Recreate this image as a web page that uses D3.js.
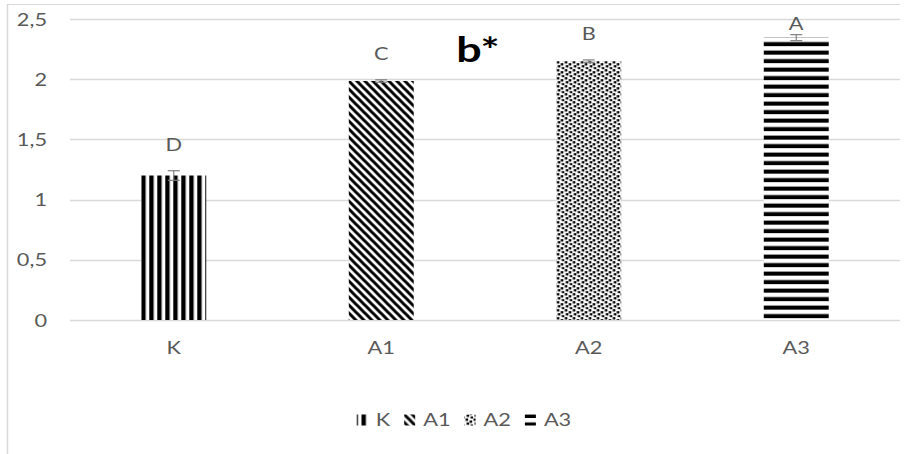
<!DOCTYPE html>
<html>
<head>
<meta charset="utf-8">
<script src="https://cdn.jsdelivr.net/npm/d3@7"></script>
<style>
  body { margin: 0; background: #fff; }
  svg text { font-family: Lato, "Liberation Sans", sans-serif; }
</style>
</head>
<body>
<svg id="chart" width="907" height="454"></svg>
<script>
// Treatment groups and measured b* values (mean ± error) with significance letters
const categories = ["K", "A1", "A2", "A3"];
const values = [1.20, 1.985, 2.15, 2.345];
const errors = [0.04, 0.01, 0.01, 0.025];
const letters = ["D", "C", "B", "A"];
const fills = ["vertical", "diagonal", "dots", "horizontal"];
const yTicks = [0, 0.5, 1, 1.5, 2, 2.5];
const tickLabels = ["0", "0,5", "1", "1,5", "2", "2,5"];
const title = "b*";

const W = 907, H = 454;
const margin = { left: 70, right: 7, top: 19, bottom: 134 };
const textGray = "#595959";
const gridGray = "#d9d9d9";
const fontSize = 17;
const stretch = 1.28;   // wide-set lettering

const svg = d3.select("#chart");
const defs = svg.append("defs");

// Widen text horizontally around its own anchor point
function widen(sel) {
  sel.each(function () {
    const t = d3.select(this);
    const ax = +t.attr("x") || 0;
    t.attr("transform", `translate(${ax * (1 - stretch)},0) scale(${stretch},1)`);
  });
}

const x = d3.scaleBand()
  .domain(categories)
  .range([margin.left, W - margin.right])
  .paddingInner(0.687)
  .paddingOuter(0.3435);

const y = d3.scaleLinear()
  .domain([0, 2.5])
  .range([H - margin.bottom, margin.top]);

// Black/white hatch fills, anchored at the top-left corner of the shape they fill
function makePattern(id, kind, x0, y0) {
  const p = defs.append("pattern")
    .attr("id", id)
    .attr("patternUnits", "userSpaceOnUse")
    .attr("x", x0).attr("y", y0);
  if (kind === "vertical") {
    p.attr("width", 8).attr("height", 8);
    p.append("rect").attr("width", 8).attr("height", 8).attr("fill", "#fff");
    p.append("rect").attr("x", 0).attr("width", 4.4).attr("height", 8).attr("fill", "#000");
  } else if (kind === "horizontal") {
    p.attr("width", 8).attr("height", 8.5);
    p.append("rect").attr("width", 8).attr("height", 8.5).attr("fill", "#fff");
    p.append("rect").attr("y", 4.4).attr("width", 8).attr("height", 4.1).attr("fill", "#000");
  } else if (kind === "diagonal") {
    p.attr("width", 8).attr("height", 8);
    p.append("rect").attr("width", 8).attr("height", 8).attr("fill", "#fff");
    p.append("path")
      .attr("d", "M-4,4 L4,12 M-4,-4 L12,12 M4,-4 L12,4")
      .attr("stroke", "#000").attr("stroke-width", 3);
  } else if (kind === "dots") {
    p.attr("width", 8).attr("height", 8);
    p.append("rect").attr("width", 8).attr("height", 8).attr("fill", "#fff");
    [[0.5, 0], [4.5, 2], [1.5, 4], [5.5, 6]].forEach(([dx, dy]) => {
      p.append("rect").attr("x", dx).attr("y", dy)
        .attr("width", 2.6).attr("height", 2.4).attr("fill", "#000");
    });
  }
  return `url(#${id})`;
}

// Outer chart frame (top and left edges)
svg.append("line").attr("x1", 7).attr("x2", 900).attr("y1", 4.5).attr("y2", 4.5)
  .attr("stroke", gridGray).attr("stroke-width", 1);
svg.append("line").attr("x1", 7.5).attr("x2", 7.5).attr("y1", 4).attr("y2", H)
  .attr("stroke", gridGray).attr("stroke-width", 1.5);

// Horizontal gridlines
svg.append("g").selectAll("line")
  .data(yTicks)
  .join("line")
  .attr("x1", margin.left).attr("x2", W - margin.right)
  .attr("y1", d => Math.round(y(d)) + 0.5).attr("y2", d => Math.round(y(d)) + 0.5)
  .attr("stroke", gridGray).attr("stroke-width", 1.3);

// Y axis labels
const yAxis = d3.axisLeft(y)
  .tickValues(yTicks)
  .tickFormat((d, i) => tickLabels[i])
  .tickSize(0)
  .tickPadding(23);
const gy = svg.append("g").attr("transform", `translate(${margin.left},0)`).call(yAxis);
gy.select(".domain").remove();
gy.selectAll("text").attr("fill", textGray).attr("font-size", fontSize).attr("dy", "0.36em").call(widen);

// X axis labels
const xAxis = d3.axisBottom(x).tickSize(0).tickPadding(22);
const gx = svg.append("g").attr("transform", `translate(0,${y(0)})`).call(xAxis);
gx.select(".domain").remove();
gx.selectAll("text").attr("fill", textGray).attr("font-size", fontSize).call(widen);

// Bars
const rows = categories.map((c, i) => ({ c, v: values[i], e: errors[i], l: letters[i], f: fills[i], i }));
svg.append("g").selectAll("rect")
  .data(rows)
  .join("rect")
  .attr("x", d => x(d.c))
  .attr("y", d => y(d.v))
  .attr("width", x.bandwidth())
  .attr("height", d => y(0) - y(d.v))
  .attr("fill", d => makePattern("fill-" + d.c, d.f, x(d.c), y(d.v)));

// Error bars
const eg = svg.append("g").attr("stroke", "#7f7f7f").attr("stroke-width", 1.2);
rows.forEach(d => {
  const cx = x(d.c) + x.bandwidth() / 2;
  const y1 = y(d.v + d.e), y2 = y(d.v - d.e);
  eg.append("line").attr("x1", cx).attr("x2", cx).attr("y1", y1).attr("y2", y2);
  [y1, y2].forEach(yy => eg.append("line")
    .attr("x1", cx - 6).attr("x2", cx + 6).attr("y1", yy).attr("y2", yy));
});

// Significance letters above each bar
svg.append("g").selectAll("text")
  .data(rows)
  .join("text")
  .attr("x", d => x(d.c) + x.bandwidth() / 2)
  .attr("y", d => Math.max(y(d.v + d.e) - 26, 24))
  .attr("dy", "0.36em")
  .attr("text-anchor", "middle")
  .attr("font-size", fontSize)
  .attr("fill", textGray)
  .text(d => d.l)
  .call(widen);

// Panel title
svg.append("text")
  .attr("x", 478).attr("y", 62)
  .attr("text-anchor", "middle")
  .attr("font-size", 35)
  .attr("font-weight", "bold")
  .attr("fill", "#000")
  .text(title)
  .call(widen);

// Legend
const legend = svg.append("g");
const legY = 420, sw = 11, gap = 8, spacing = 14;
let lx = 0;
const items = [];
rows.forEach(d => {
  const g = legend.append("g");
  const t = g.append("text")
    .attr("x", sw + gap).attr("y", 0).attr("dy", "0.36em")
    .attr("font-size", fontSize).attr("fill", textGray).text(d.c);
  const w = sw + gap + t.node().getComputedTextLength() * stretch;
  t.call(widen);
  items.push({ g, d, x: lx, w });
  lx += w + spacing;
});
const total = lx - spacing;
const startX = 464 - total / 2;
items.forEach(it => {
  const gx0 = startX + it.x;
  it.g.attr("transform", `translate(${gx0},${legY})`);
  it.g.insert("rect", "text")
    .attr("x", 0).attr("y", -sw / 2)
    .attr("width", sw).attr("height", sw)
    .attr("fill", makePattern("leg-" + it.d.c, it.d.f, gx0, legY - sw / 2));
});
</script>
</body>
</html>
